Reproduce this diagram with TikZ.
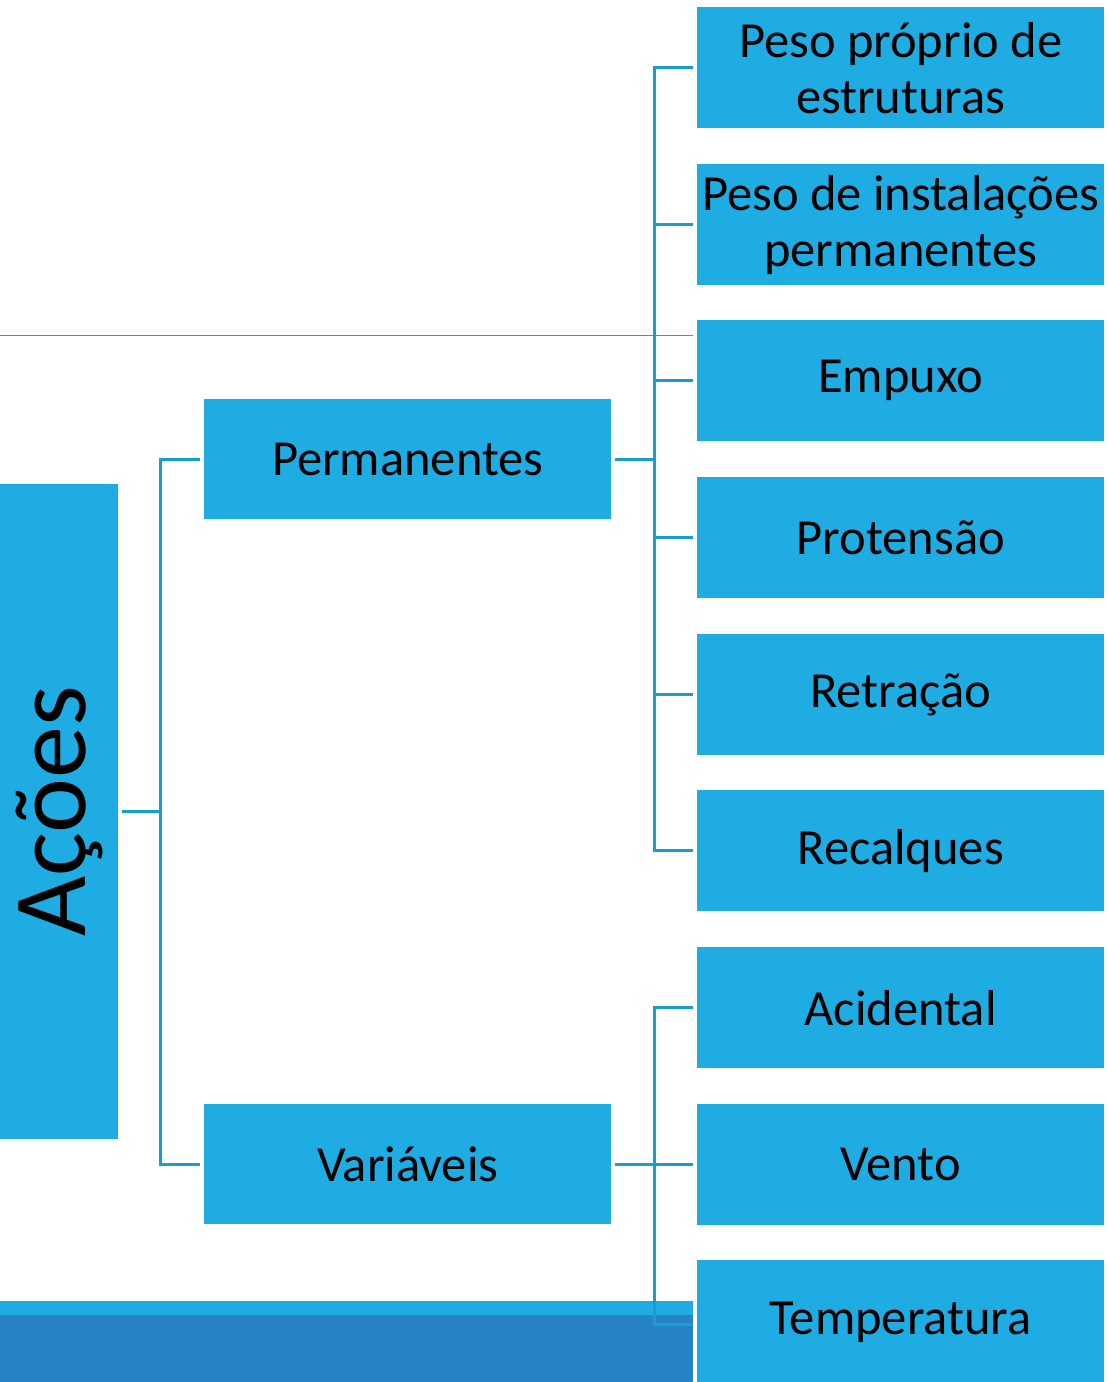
\documentclass[tikz,border=0pt]{standalone}
\usepackage{fontspec}
\setmainfont{Carlito}
\definecolor{boxblue}{HTML}{1EACE3}
\definecolor{linkblue}{HTML}{1A9BD2}
\definecolor{darkband}{HTML}{2683C6}
\tikzset{
  leaf/.style={fill=boxblue, draw=none, anchor=north west, minimum width=407pt, minimum height=121pt, inner sep=0pt, align=center, font=\fontsize{50.5}{56}\selectfont, text=black},
  mid/.style={fill=boxblue, draw=none, anchor=north west, minimum width=407pt, minimum height=120pt, inner sep=0pt, align=center, font=\fontsize{50.5}{56}\selectfont, text=black},
  conn/.style={draw=linkblue, line width=3pt}
}
\begin{document}
\begin{tikzpicture}[x=1pt,y=-1pt]
\useasboundingbox (0,0) rectangle (1107,1382);
% bottom band
\fill[boxblue] (0,1301) rectangle (693,1315);
\fill[darkband] (0,1315) rectangle (693,1382);
% gray line
\draw[draw=gray, line width=1.5pt] (0,335.5) -- (693,335.5);
% root
\node[fill=boxblue, draw=none, rotate=90, minimum width=655pt, minimum height=118pt, inner sep=0pt, font=\fontsize{104}{110}\selectfont, text=black] (acoes) at (59,811.5) {Ações};
% middle
\node[mid] (perm) at (204,399) {Permanentes};
\node[mid] (var) at (204,1104) {Variáveis};
% leaves
\node[leaf] (r1) at (697,7) {Peso próprio de\\estruturas};
\node[leaf] (r2) at (697,164) {Peso de instalações\\permanentes};
\node[leaf] (r3) at (697,320) {Empuxo};
\node[leaf] (r4) at (697,477) {Protensão};
\node[leaf] (r5) at (697,634) {Retração};
\node[leaf] (r6) at (697,790) {Recalques};
\node[leaf] (r7) at (697,947) {Acidental};
\node[leaf] (r8) at (697,1104) {Vento};
\node[leaf, minimum height=125pt] (r9) at (697,1260) {Temperatura};
% connectors
\draw[conn] (acoes.south) ++(4,0) -- ++(38,0) |- ([xshift=-4pt]perm.west);
\draw[conn] (acoes.south) ++(4,0) -- ++(38,0) |- ([xshift=-4pt]var.west);
\foreach \i in {1,...,6}{
  \draw[conn] ([xshift=4pt]perm.east) -- ++(39,0) |- ([xshift=-4pt]r\i.west);
}
\draw[conn] ([xshift=4pt]var.east) -- ++(39,0) |- ([xshift=-4pt]r7.west);
\draw[conn] ([xshift=4pt]var.east) -- ++(39,0) |- ([xshift=-4pt]r8.west);
\draw[conn] ([xshift=4pt]var.east) -- ++(39,0) |- ([xshift=-4pt,yshift=-2pt]r9.west);
\end{tikzpicture}
\end{document}
